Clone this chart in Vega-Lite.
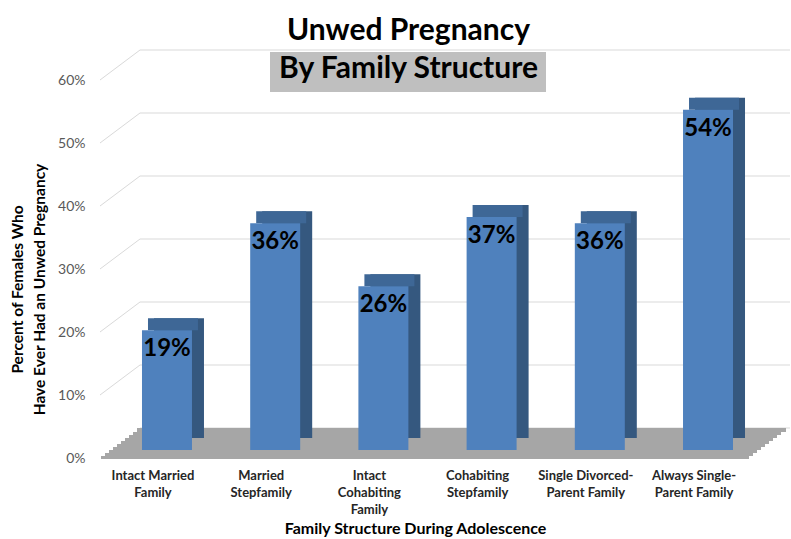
{
  "$schema": "https://vega.github.io/schema/vega-lite/v6.json",
  "width": 675,
  "height": 378,
  "autosize": {"type": "none"},
  "padding": {"left": 100, "top": 80, "right": 16, "bottom": 81},
  "background": "white",
  "config": {"view": {"stroke": null}, "font": "Lato"},
  "title": {
    "text": "Unwed Pregnancy",
    "subtitle": "By Family Structure",
    "anchor": "middle",
    "frame": "group",
    "dx": -29,
    "dy": 34,
    "offset": 0,
    "font": "Lato",
    "fontSize": 30,
    "fontWeight": "bold",
    "color": "#000000",
    "subtitleFont": "Lato",
    "subtitleFontSize": 30,
    "subtitleFontWeight": "bold",
    "subtitleColor": "#000000",
    "subtitlePadding": 8
  },
  "data": {
    "values": [
      {"structure": "Intact Married Family", "pct": 0.19},
      {"structure": "Married Stepfamily", "pct": 0.36},
      {"structure": "Intact Cohabiting Family", "pct": 0.26},
      {"structure": "Cohabiting Stepfamily", "pct": 0.37},
      {"structure": "Single Divorced-Parent Family", "pct": 0.36},
      {"structure": "Always Single-Parent Family", "pct": 0.54}
    ]
  },
  "layer": [
    {
      "data": {"values": [{"t": 0}, {"t": 0.1}, {"t": 0.2}, {"t": 0.3}, {"t": 0.4}, {"t": 0.5}, {"t": 0.6}]},
      "mark": {"type": "rule", "color": "#d9d9d9", "strokeWidth": 1, "yOffset": -30},
      "encoding": {
        "x": {"value": 40},
        "x2": {"value": 690},
        "y": {
          "field": "t",
          "type": "quantitative",
          "scale": {"domain": [0, 0.6], "nice": false},
          "axis": {
            "values": [0, 0.1, 0.2, 0.3, 0.4, 0.5, 0.6],
            "format": ".0%",
            "grid": false,
            "domain": false,
            "ticks": false,
            "labelPadding": 15,
            "labelFont": "Lato",
            "labelFontSize": 14,
            "labelColor": "#595959",
            "title": ["Percent of Females Who", "Have Ever Had an Unwed Pregnancy"],
            "titleFont": "Lato",
            "titleFontSize": 15.5,
            "titleFontWeight": "bold",
            "titleColor": "#000000",
            "titleAngle": -90,
            "titleAlign": "center",
            "titleBaseline": "top",
            "titleX": -90,
            "titleY": 209,
            "titleLineHeight": 22
          }
        }
      }
    },
    {
      "data": {"values": [{"t": 0.1}, {"t": 0.2}, {"t": 0.3}, {"t": 0.4}, {"t": 0.5}, {"t": 0.6}]},
      "mark": {"type": "rule", "color": "#d9d9d9", "strokeWidth": 1, "y2Offset": -30},
      "encoding": {
        "x": {"value": 0},
        "x2": {"value": 40},
        "y": {"field": "t", "type": "quantitative"},
        "y2": {"field": "t"}
      }
    },
    {"data": {"values": [{}]}, "mark": {"type": "rect", "color": "#a6a6a6", "yOffset": -2, "y2Offset": 1}, "encoding": {"x": {"value": 1}, "x2": {"value": 649}, "y": {"datum": 0}, "y2": {"datum": 0}}},
    {"data": {"values": [{}]}, "mark": {"type": "rect", "color": "#a6a6a6", "yOffset": -5, "y2Offset": -2}, "encoding": {"x": {"value": 5}, "x2": {"value": 653}, "y": {"datum": 0}, "y2": {"datum": 0}}},
    {"data": {"values": [{}]}, "mark": {"type": "rect", "color": "#a6a6a6", "yOffset": -8, "y2Offset": -5}, "encoding": {"x": {"value": 9}, "x2": {"value": 657}, "y": {"datum": 0}, "y2": {"datum": 0}}},
    {"data": {"values": [{}]}, "mark": {"type": "rect", "color": "#a6a6a6", "yOffset": -11, "y2Offset": -8}, "encoding": {"x": {"value": 13}, "x2": {"value": 661}, "y": {"datum": 0}, "y2": {"datum": 0}}},
    {"data": {"values": [{}]}, "mark": {"type": "rect", "color": "#a6a6a6", "yOffset": -14, "y2Offset": -11}, "encoding": {"x": {"value": 17}, "x2": {"value": 665}, "y": {"datum": 0}, "y2": {"datum": 0}}},
    {"data": {"values": [{}]}, "mark": {"type": "rect", "color": "#a6a6a6", "yOffset": -17, "y2Offset": -14}, "encoding": {"x": {"value": 21}, "x2": {"value": 669}, "y": {"datum": 0}, "y2": {"datum": 0}}},
    {"data": {"values": [{}]}, "mark": {"type": "rect", "color": "#a6a6a6", "yOffset": -20, "y2Offset": -17}, "encoding": {"x": {"value": 25}, "x2": {"value": 673}, "y": {"datum": 0}, "y2": {"datum": 0}}},
    {"data": {"values": [{}]}, "mark": {"type": "rect", "color": "#a6a6a6", "yOffset": -23, "y2Offset": -20}, "encoding": {"x": {"value": 29}, "x2": {"value": 677}, "y": {"datum": 0}, "y2": {"datum": 0}}},
    {"data": {"values": [{}]}, "mark": {"type": "rect", "color": "#a6a6a6", "yOffset": -26, "y2Offset": -23}, "encoding": {"x": {"value": 33}, "x2": {"value": 681}, "y": {"datum": 0}, "y2": {"datum": 0}}},
    {"data": {"values": [{}]}, "mark": {"type": "rect", "color": "#a6a6a6", "yOffset": -30, "y2Offset": -26}, "encoding": {"x": {"value": 37}, "x2": {"value": 686}, "y": {"datum": 0}, "y2": {"datum": 0}}},
    {"data": {"values": [{}]}, "mark": {"type": "rect", "color": "#bfbfbf"}, "encoding": {"x": {"value": 170}, "x2": {"value": 446}, "y": {"value": -28}, "y2": {"value": 12}}},
    {
      "encoding": {
        "x": {
          "field": "structure",
          "type": "nominal",
          "sort": null,
          "scale": {"paddingInner": 0.538, "paddingOuter": 0.388},
          "axis": {
            "labelAngle": 0,
            "labelExpr": "datum.value == 'Intact Married Family' ? ['Intact Married', 'Family'] : datum.value == 'Married Stepfamily' ? ['Married', 'Stepfamily'] : datum.value == 'Intact Cohabiting Family' ? ['Intact', 'Cohabiting', 'Family'] : datum.value == 'Cohabiting Stepfamily' ? ['Cohabiting', 'Stepfamily'] : datum.value == 'Single Divorced-Parent Family' ? ['Single Divorced-', 'Parent Family'] : ['Always Single-', 'Parent Family']",
            "labelFont": "Lato",
            "labelFontSize": 13,
            "labelFontWeight": "bold",
            "labelColor": "#262626",
            "labelLineHeight": 17,
            "labelPadding": 11,
            "labelOffset": -14,
            "labelLimit": 300,
            "ticks": false,
            "domain": false,
            "title": "Family Structure During Adolescence",
            "titleFont": "Lato",
            "titleFontSize": 16,
            "titleFontWeight": "bold",
            "titleColor": "#000000",
            "titleAlign": "center",
            "titleBaseline": "alphabetic",
            "titleX": 315,
            "titleY": 75
          }
        },
        "y": {"field": "pct", "type": "quantitative"}
      },
      "layer": [
        {"mark": {"type": "bar", "color": "#35587f", "xOffset": 12, "yOffset": -20, "y2Offset": -20}, "encoding": {"y2": {"datum": 0}}},
        {"mark": {"type": "bar", "color": "#3e6796", "xOffset": 6, "yOffset": -20, "y2Offset": -8}, "encoding": {"y2": {"field": "pct"}}},
        {"mark": {"type": "bar", "color": "#4f81bd", "yOffset": -8, "y2Offset": -8}, "encoding": {"y2": {"datum": 0}}},
        {"mark": {"type": "text", "font": "Lato", "fontSize": 24, "fontWeight": "bold", "color": "#000000", "baseline": "alphabetic", "yOffset": 18}, "encoding": {"text": {"field": "pct", "type": "quantitative", "format": ".0%"}}}
      ]
    }
  ]
}
